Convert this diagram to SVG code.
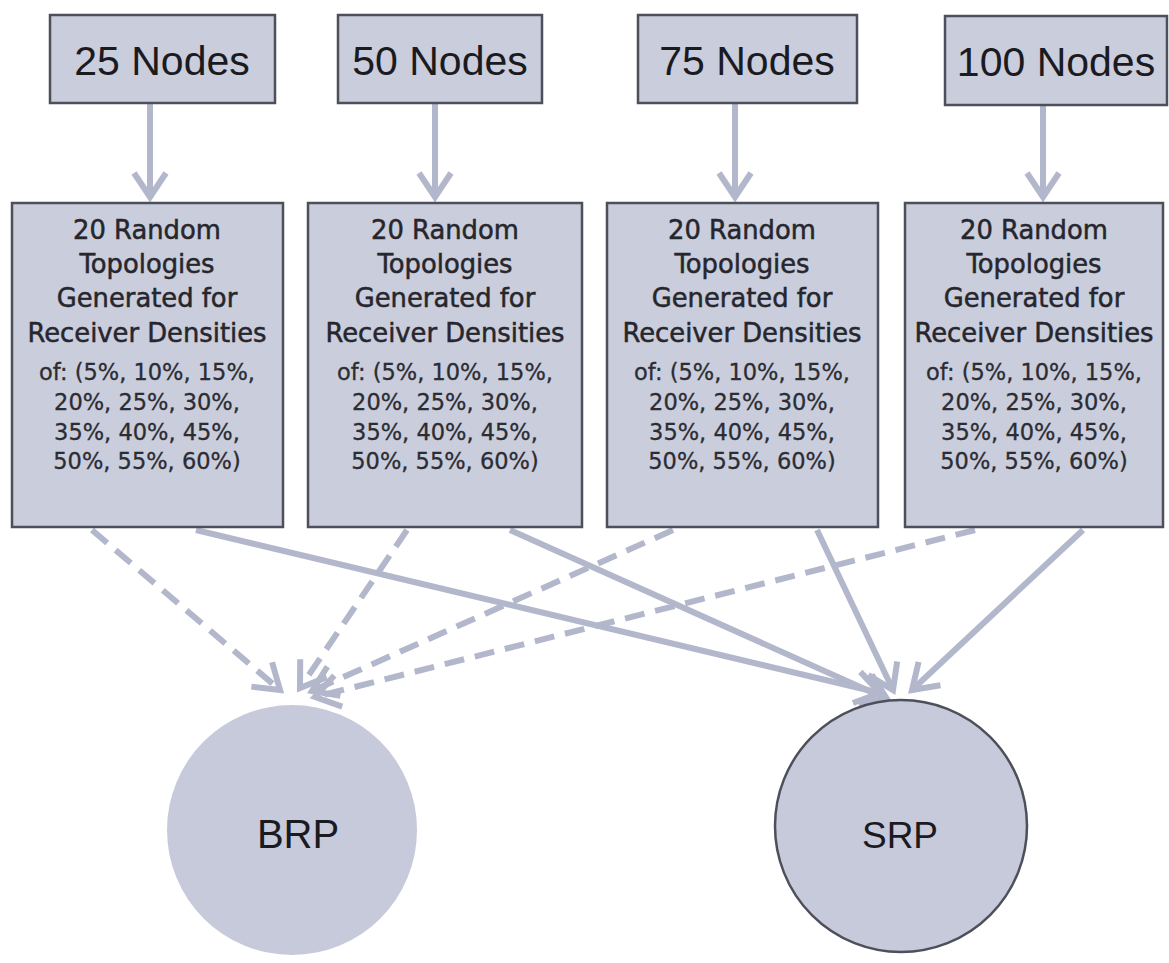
<svg xmlns="http://www.w3.org/2000/svg" width="1169" height="963" viewBox="0 0 1169 963">
  <style>
    .box { fill: #c9cddc; stroke: #4d4f5a; stroke-width: 2.5; }
    .title { font-family: "Liberation Sans", Arial, sans-serif; font-size: 41px; fill: #1a1a1f; text-anchor: middle; }
    .big { font-family: "DejaVu Sans", Verdana, sans-serif; font-size: 25.8px; fill: #26262c; stroke: #26262c; stroke-width: 0.5; text-anchor: middle; }
    .small { font-family: "DejaVu Sans", Verdana, sans-serif; font-size: 22.5px; fill: #2c2c33; stroke: #2c2c33; stroke-width: 0.3; text-anchor: middle; }
    .circ { fill: #c6cadb; }
    .label { font-family: "Liberation Sans", Arial, sans-serif; fill: #1a1a1f; text-anchor: middle; }
    .link { fill: none; stroke: #b3b7cb; stroke-width: 6; }
    .dash { stroke-dasharray: 20 11; }
  </style>
  <defs>
    <marker id="chev" markerUnits="userSpaceOnUse" markerWidth="60" markerHeight="60" viewBox="-30 -30 60 60" refX="0" refY="0" orient="auto" overflow="visible">
      <path d="M-24,-16 L0,0 L-24,16" fill="none" stroke="#b3b7cb" stroke-width="6"/>
    </marker>
  </defs>

  <rect width="1169" height="963" fill="#ffffff"/>

  <!-- connectors -->
  <g id="connectors">
    <line class="link" x1="150" y1="103" x2="150" y2="197" marker-end="url(#chev)"/>
    <line class="link" x1="435" y1="103" x2="435" y2="197" marker-end="url(#chev)"/>
    <line class="link" x1="735" y1="103" x2="735" y2="197" marker-end="url(#chev)"/>
    <line class="link" x1="1043" y1="105" x2="1043" y2="197" marker-end="url(#chev)"/>

    <line class="link dash" x1="92" y1="530" x2="280" y2="690" marker-end="url(#chev)"/>
    <line class="link dash" x1="407" y1="530" x2="300" y2="688" marker-end="url(#chev)"/>
    <line class="link dash" x1="673" y1="530" x2="312" y2="691" marker-end="url(#chev)"/>
    <line class="link dash" x1="975" y1="530" x2="315" y2="697" marker-end="url(#chev)"/>

    <line class="link" x1="196" y1="530" x2="880" y2="693" marker-end="url(#chev)"/>
    <line class="link" x1="510" y1="530" x2="887" y2="699" marker-end="url(#chev)"/>
    <line class="link" x1="817" y1="530" x2="893" y2="690" marker-end="url(#chev)"/>
    <line class="link" x1="1083" y1="530" x2="912" y2="690" marker-end="url(#chev)"/>
  </g>

  <!-- node counts -->
  <g id="n25">
    <rect class="box" x="50" y="15" width="225" height="88"/>
    <text class="title" x="162" y="75">25 Nodes</text>
  </g>
  <g id="n50">
    <rect class="box" x="338" y="15" width="204" height="88"/>
    <text class="title" x="440" y="75">50 Nodes</text>
  </g>
  <g id="n75">
    <rect class="box" x="638" y="15" width="219" height="88"/>
    <text class="title" x="747" y="75">75 Nodes</text>
  </g>
  <g id="n100">
    <rect class="box" x="945" y="16" width="222" height="89"/>
    <text class="title" x="1056" y="76">100 Nodes</text>
  </g>

  <!-- topology sets -->
  <g id="topo25">
    <rect class="box" x="12" y="203" width="271" height="324"/>
    <text class="big" x="147" y="239">20 Random</text>
    <text class="big" x="147" y="273">Topologies</text>
    <text class="big" x="147" y="307">Generated for</text>
    <text class="big" x="147" y="342">Receiver Densities</text>
    <text class="small" x="147" y="380">of: (5%, 10%, 15%,</text>
    <text class="small" x="147" y="410">20%, 25%, 30%,</text>
    <text class="small" x="147" y="440">35%, 40%, 45%,</text>
    <text class="small" x="147" y="469">50%, 55%, 60%)</text>
  </g>
  <g id="topo50">
    <rect class="box" x="308" y="203" width="274" height="324"/>
    <text class="big" x="445" y="239">20 Random</text>
    <text class="big" x="445" y="273">Topologies</text>
    <text class="big" x="445" y="307">Generated for</text>
    <text class="big" x="445" y="342">Receiver Densities</text>
    <text class="small" x="445" y="380">of: (5%, 10%, 15%,</text>
    <text class="small" x="445" y="410">20%, 25%, 30%,</text>
    <text class="small" x="445" y="440">35%, 40%, 45%,</text>
    <text class="small" x="445" y="469">50%, 55%, 60%)</text>
  </g>
  <g id="topo75">
    <rect class="box" x="607" y="203" width="271" height="324"/>
    <text class="big" x="742" y="239">20 Random</text>
    <text class="big" x="742" y="273">Topologies</text>
    <text class="big" x="742" y="307">Generated for</text>
    <text class="big" x="742" y="342">Receiver Densities</text>
    <text class="small" x="742" y="380">of: (5%, 10%, 15%,</text>
    <text class="small" x="742" y="410">20%, 25%, 30%,</text>
    <text class="small" x="742" y="440">35%, 40%, 45%,</text>
    <text class="small" x="742" y="469">50%, 55%, 60%)</text>
  </g>
  <g id="topo100">
    <rect class="box" x="905" y="203" width="258" height="324"/>
    <text class="big" x="1034" y="239">20 Random</text>
    <text class="big" x="1034" y="273">Topologies</text>
    <text class="big" x="1034" y="307">Generated for</text>
    <text class="big" x="1034" y="342">Receiver Densities</text>
    <text class="small" x="1034" y="380">of: (5%, 10%, 15%,</text>
    <text class="small" x="1034" y="410">20%, 25%, 30%,</text>
    <text class="small" x="1034" y="440">35%, 40%, 45%,</text>
    <text class="small" x="1034" y="469">50%, 55%, 60%)</text>
  </g>

  <!-- protocols -->
  <g id="brp">
    <circle class="circ" cx="292" cy="830" r="125"/>
    <text class="label" x="298" y="848" font-size="40">BRP</text>
  </g>
  <g id="srp">
    <circle class="circ" cx="901" cy="826" r="126" stroke="#4d4f5a" stroke-width="2.5"/>
    <text class="label" x="900" y="848" font-size="37">SRP</text>
  </g>
</svg>
